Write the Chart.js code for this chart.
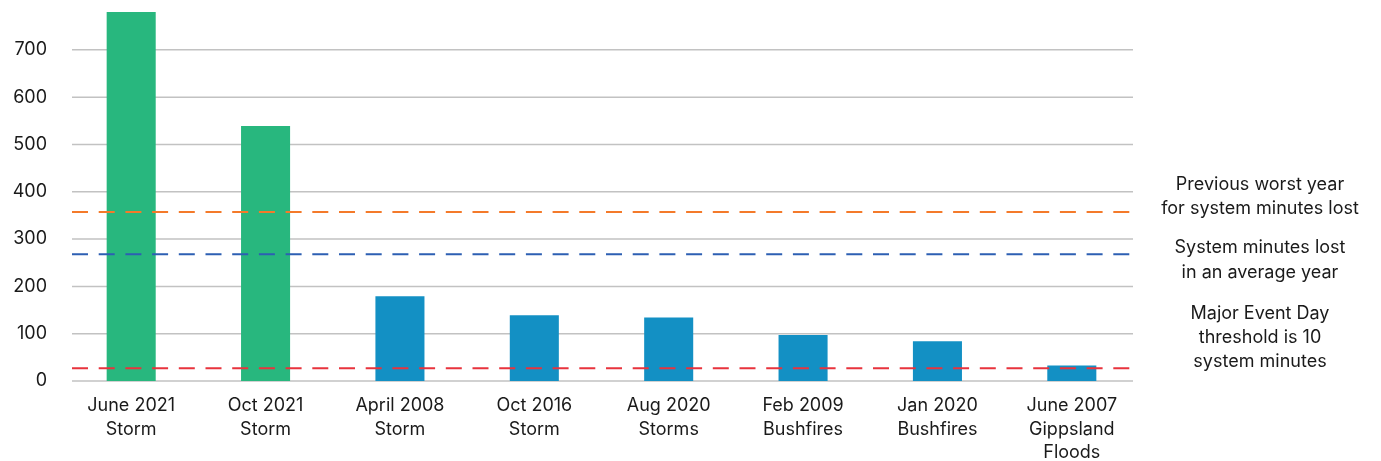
<!DOCTYPE html>
<html>
<head>
<meta charset="utf-8">
<script src="https://cdn.jsdelivr.net/npm/chart.js@4"></script>
<style>
  html, body { margin: 0; padding: 0; background: #fff; }
  #wrap { width: 1381px; height: 461px; }
</style>
</head>
<body>
<div id="wrap"><canvas id="eventsChart"></canvas></div>
<script>
var eventLabels = [
    ['June 2021', 'Storm'],
    ['Oct 2021', 'Storm'],
    ['April 2008', 'Storm'],
    ['Oct 2016', 'Storm'],
    ['Aug 2020', 'Storms'],
    ['Feb 2009', 'Bushfires'],
    ['Jan 2020', 'Bushfires'],
    ['June 2007', 'Gippsland', 'Floods']
];
var systemMinutes = [780, 539, 179, 139, 134, 97, 84, 33];
var yTicks = [0, 100, 200, 300, 400, 500, 600, 700];

var refValues = [357, 268, 27];
var refLabels = [
    ['Previous worst year', 'for system minutes lost'],
    ['System minutes lost', 'in an average year'],
    ['Major Event Day', 'threshold is 10', 'system minutes']
];

var fontFamily = 'Inter, Lato, sans-serif';
var textColor = '#1a1a1a';
var refColors = ['#f47a2a', '#2d5fb3', '#e8333d'];
var refTextY = [[185, 209], [248, 273], [314, 338, 362]];

var gridAndRefs = {
    id: 'gridAndRefs',
    beforeDatasetsDraw: function (chart) {
        var ctx = chart.ctx, area = chart.chartArea, y = chart.scales.y;
        ctx.save();
        ctx.strokeStyle = '#c2c2c2';
        ctx.lineWidth = 1.5;
        yTicks.forEach(function (v) {
            var py = y.getPixelForValue(v);
            ctx.beginPath();
            ctx.moveTo(area.left + 8, py);
            ctx.lineTo(area.right - 6, py);
            ctx.stroke();
        });
        ctx.restore();
    },
    afterDatasetsDraw: function (chart) {
        var ctx = chart.ctx, area = chart.chartArea, y = chart.scales.y;
        ctx.save();
        ctx.lineWidth = 2;
        ctx.setLineDash([16, 10.7]);
        refValues.forEach(function (v, i) {
            var py = y.getPixelForValue(v);
            ctx.strokeStyle = refColors[i];
            ctx.beginPath();
            ctx.moveTo(area.left + 8, py);
            ctx.lineTo(area.right - 6, py);
            ctx.stroke();
        });
        ctx.setLineDash([]);
        ctx.fillStyle = textColor;
        ctx.font = '18px ' + fontFamily;
        ctx.textAlign = 'center';
        ctx.textBaseline = 'middle';
        refLabels.forEach(function (lines, i) {
            lines.forEach(function (line, j) {
                ctx.fillText(line, 1260, refTextY[i][j]);
            });
        });
        ctx.restore();
    }
};

var ctx = document.getElementById('eventsChart').getContext('2d');
var eventsChart = new Chart(ctx, {
    type: 'bar',
    data: {
        labels: eventLabels,
        datasets: [{
            data: systemMinutes,
            backgroundColor: ['#28b77e', '#28b77e', '#1390c4', '#1390c4', '#1390c4', '#1390c4', '#1390c4', '#1390c4'],
            barPercentage: 0.365,
            categoryPercentage: 1
        }]
    },
    options: {
        responsive: true,
        maintainAspectRatio: false,
        animation: false,
        layout: { padding: { top: 12, right: 242, bottom: 0, left: 0 } },
        plugins: {
            legend: { display: false },
            tooltip: { enabled: false }
        },
        scales: {
            x: {
                grid: { display: false, drawTicks: false },
                border: { display: false },
                ticks: {
                    color: textColor,
                    font: { family: fontFamily, size: 18, lineHeight: 1.3 },
                    padding: 13,
                    maxRotation: 0,
                    autoSkip: false
                },
                afterFit: function (axis) { axis.height = 80; }
            },
            y: {
                min: 0,
                max: 780,
                grid: { display: false, drawTicks: false },
                border: { display: false },
                ticks: {
                    stepSize: 100,
                    color: textColor,
                    font: { family: fontFamily, size: 18 },
                    padding: 17
                },
                afterBuildTicks: function (axis) {
                    axis.ticks = axis.ticks.filter(function (t) { return t.value % 100 === 0; });
                },
                afterFit: function (axis) {
                    axis.width = 64;
                    axis.paddingTop = 0;
                    axis.paddingBottom = 0;
                }
            }
        }
    },
    plugins: [gridAndRefs]
});
</script>
</body>
</html>
